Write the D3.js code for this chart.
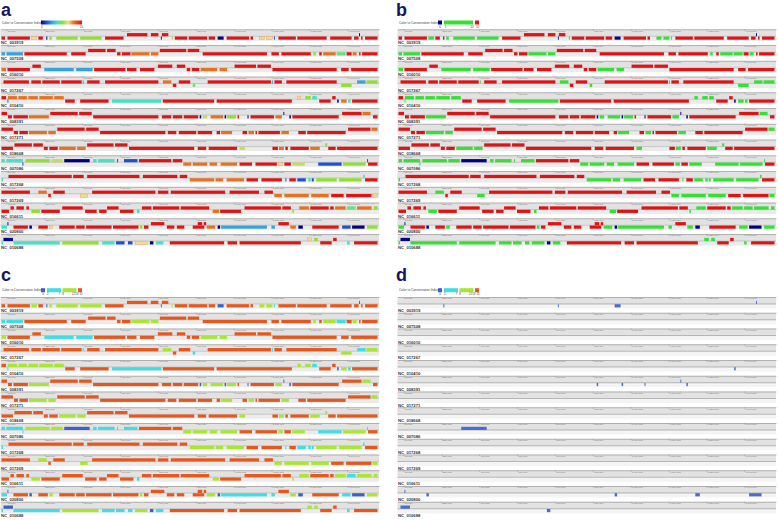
<!DOCTYPE html>
<html>
<head>
<meta charset="utf-8">
<script src="https://cdnjs.cloudflare.com/ajax/libs/d3/7.8.5/d3.min.js"></script>
<style>
  body { margin: 0; background: #fff; }
  svg { display: block; font-family: "Liberation Sans", Arial, sans-serif; }
</style>
</head>
<body>
<div id="chart"></div>
<script>
// genome names, one per track
const trackNames = ["NC_003919", "NC_007508", "NC_016010", "NC_017267", "NC_010410", "NC_008391", "NC_017271",
  "NC_018668", "NC_007086", "NC_017268", "NC_017269", "NC_016611", "NC_020800", "NC_010688"];

// ruler ticks (position units of 5 kb)
const tickValues = [6, 44, 82, 120, 158, 196, 234, 272, 310, 348];
const tickLabels = ["30,000", "220,000", "410,000", "600,000", "790,000", "980,000", "1,170,000", "1,360,000", "1,550,000", "1,740,000"];

// legend labels
const legendLabelsA = ["0", "15"];
const legendLabelsB = ["0", "1", "13", "15"];
const legendLabelsC = ["0", "2", "7", "8", "12", "13", "15"];

// blocks: [start, end, strand (+1 upper / -1 lower), conservation index]
const track01 = [[127,148,1,15],[151,159,1,15],[162,169,1,15],[360,361,1,0],
  [1,5,-1,15],[7,30,-1,15],[31,37,-1,10],[38,43,-1,15],[46,47.5,-1,0],[49,52,-1,8],[56,78,-1,8],[80,102,-1,8],[105,124,-1,15],
  [161,162,-1,0],[172,173.5,-1,8],[175,188,-1,15],[189,208,-1,15],[209,216,-1,15],[218,224.5,-1,0],[227,250,-1,15],[251,254,-1,15],
  [260,265.5,-1,10],[267,273.5,-1,10],[274.5,276,-1,2],[279,297,-1,15],[298,328,-1,15],[331,353,-1,15],[355,360,-1,15],[362,364,-1,15],[366,379,-1,15]];
const track02 = [[88,106,1,15],[107,116,1,15],[160,187,1,15],[188,200,1,15],
  [1,5,-1,4],[6,23,-1,4],[24,67,-1,15],[71,86,-1,15],[117,121,-1,15],[122,131,-1,15],[131.5,150,-1,12],[151,159,-1,12],[203,268,-1,15],
  [272,280,-1,15],[282,312,-1,15],[314,317,-1,8],[320,323,-1,15],[324,337,-1,12],[337.5,347,-1,7],[347.5,353,-1,15],[353.5,358,-1,12],[360,362,-1,15],[363,379,-1,15]];
const track03 = [[32,41,1,15],[158,173,1,15],[177,186,1,15],[235,257,1,15],[258,272,1,15],
  [1,6,-1,12],[7,30,-1,15],[44,74,-1,4],[76,93,-1,4],[94,126,-1,15],[127,137,-1,15],[140,155,-1,15],[187,191,-1,15],[192,200,-1,15],
  [201,218,-1,12],[220,228,-1,12],[273,338,-1,15],[342,350,-1,15],[352,379,-1,15]];
const track04 = [[3,29,1,15],[31,41,1,15],[42,60,1,15],[61,82,1,15],[82.5,84,1,4],[87,100,1,15],[105,159,1,15],[163,172,1,12],[179,191,1,15],
  [208,272,1,15],[272.5,274,1,4],[275,283,1,15],[287,338,1,15],[358,367,1,4],[367.5,379,1,8],
  [173,177,-1,15],[193,196,-1,7],[342,353,-1,8]];
const track05 = [[1,6,1,15],[7.5,17,1,12],[18,27,1,12],[28,38,1,12],[39,53,1,12],[54,64,1,12],[298,302,1,10],[306,312,1,8],[313,318,1,6],[333,337,1,15],
  [7,7.8,-1,2],[65,75,-1,15],[80,109,-1,15],[112,162,-1,6],[163,215,-1,15],[217,293,-1,15],[320,332,-1,15],[338,340,-1,0],[342,348,-1,12],[349,352,-1,6],[353,379,-1,15]];
const track06 = [[1,7,1,15],[50,78,1,15],[79,92,1,15],[284,285,1,0],[343,363,1,15],[363.5,372,1,12],
  [7.5,12,-1,15],[13,28,-1,15],[28.5,49,-1,12],[93,159,-1,15],[162,172,-1,15],[173,183,-1,15],[184,199,-1,15],[200,202,-1,0],[203,208,-1,9],
  [211,224,-1,12],[225,227,-1,0],[227.5,237,-1,8],[238,240,-1,15],[248,249.5,-1,0],[251,275,-1,15],[276,283,-1,12],[290,292,-1,0],[293,340,-1,15],[374,379,-1,15]];
const track07 = [[1,13,1,15],[57,85,1,15],[86,99,1,15],[349,372,1,15],[372.5,379,1,12],
  [13.5,18,-1,15],[19,28,-1,15],[28.5,47,-1,12],[48,56,-1,12],[100,166,-1,15],[168,177,-1,15],[179,197,-1,15],[198,213,-1,15],[217,221,-1,15],
  [221.5,233,-1,12],[243,248,-1,15],[249,255,-1,12],[256,258,-1,15],[259,281,-1,15],[282,290,-1,12],[299,307,-1,15],[308,347,-1,15]];
const track08 = [[14,32,1,15],[33,43,1,15],[87,114,1,15],[115,128,1,15],[326,328.5,1,8],
  [1,13,-1,15],[43.5,48,-1,15],[49,58,-1,15],[59,76,-1,12],[77,86,-1,12],[129,195,-1,15],[198,207,-1,15],[209,238,-1,15],[240,246,-1,9],
  [273,279,-1,15],[279.5,285,-1,12],[286,289,-1,15],[291,310,-1,15],[311,321,-1,12],[329,337,-1,15],[338,379,-1,15]];
const track09 = [[1,5,1,6],[6,23,1,6],[25,50,1,8],[51,63,1,9],[64,90,1,0],[93,97,1,6],[98,115,1,6],[117,118.5,1,2],[124,138,1,2],[139,172,1,15],
  [173,183,1,15],[368,369.5,1,2],
  [22,23.5,-1,2],[183.5,192,-1,12],[193,208,-1,12],[210,218,-1,12],[221,238,-1,12],[240,253,-1,15],[256,278,-1,15],[279,284,-1,10],[285,292,-1,15],
  [293,306,-1,9],[319,343,-1,2],[344,367,-1,8],[369,379,-1,15]];
const track10 = [[8,72,1,15],[73,84,1,15],[87,140,1,15],[143,178,1,15],[180,188,1,15],[364,366,1,6],
  [1,3,-1,6],[190,215,-1,12],[216,224,-1,12],[227,245,-1,12],[247,259,-1,15],[262,283,-1,15],[286,287.5,-1,2],[290,297,-1,15],[298,307,-1,2],
  [309,312,-1,6],[312.5,315,-1,2],[317,338,-1,8],[340,363,-1,8],[366,379,-1,15]];
const track11 = [[1,30,1,15],[38,47,1,12],[53,65,1,15],[92,156,1,15],[158,169,1,15],[171,226,1,15],[230,260,1,15],[265,274,1,15],
  [48,51,-1,15],[80,88,-1,10],[275,283,-1,12],[285,310,-1,12],[312,330,-1,12],[332,345,-1,15],[347,373,-1,15],[373.5,379,-1,10]];
const track12 = [[10,14,1,15],[16,24,1,15],[26,29,1,15],[62,83,1,15],[107,119,1,15],[142,152,1,15],[153,180,1,15],[181,210,1,15],[245,282,1,15],
  [283,292,1,15],[300,310,1,12],[311,330,1,15],[331,335,1,15],[336,347,1,12],[348,357,1,7],[358,373,1,12],[375,379,1,8],
  [1,9,-1,15],[31,40,-1,8],[41,60,-1,15],[85,97,-1,15],[99,107,-1,15],[120,134,-1,15],[137,140,-1,6],[213,220,-1,12],[220.5,242,-1,15],[293,295,-1,8]];
const track13 = [[7,8,1,0],[151,165,1,15],[198,203,1,15],[204,207,1,15],[279,290,1,15],
  [1,7,-1,6],[13,28,-1,15],[29,32,-1,0],[38,48,-1,15],[49,53,-1,10],[59,75,-1,15],[76,85,-1,15],[86,112,-1,15],[113,139,-1,15],[140,143,-1,8],
  [144,149,-1,15],[167,175,-1,15],[177,185,-1,15],[193,205,-1,15],[207,216,-1,12],[218,221,-1,0],[221.5,268,-1,4],[272,276,-1,4],[291,297,-1,12],
  [299,304,-1,0],[313,340,-1,15],[343,352,-1,2],[353,366,-1,0],[368,379,-1,8]];
const track14 = [[3,13,1,0],[308,313,1,10],[315,319,1,8],[334,338,1,15],
  [1,3,-1,6],[13,60,-1,6],[62,99,-1,8],[102,115,-1,6],[116,125,-1,2],[128,133,-1,2],[135,148,-1,10],[150,154,-1,0],[156,164,-1,6],
  [170,225,-1,15],[228,238,-1,15],[240,302,-1,15],[321,333,-1,15],[348,351,-1,6],[355,379,-1,15]];

const tracks = [track01, track02, track03, track04, track05, track06, track07, track08, track09, track10, track11, track12, track13, track14];

// colour schemes
const colorA = d3.scaleLinear()
  .domain([0, 2, 4, 6, 8, 10, 12, 15])
  .range(["#00007f", "#1f4fd6", "#37a3de", "#3fe3c6", "#8fe12e", "#f3d89c", "#e8701e", "#e01414"]);
const colorB = d3.scaleThreshold().domain([0.5, 13.5]).range(["#00008f", "#33e133", "#e01212"]);
const colorC = d3.scaleThreshold().domain([1.5, 7.5, 12.5]).range(["#3c5fc9", "#3fdde6", "#a8e632", "#e8561c"]);

const W = 778, H = 520;
const svg = d3.select("#chart").append("svg").attr("width", W).attr("height", H);

const grad = svg.append("defs").append("linearGradient").attr("id", "gradA");
colorA.domain().forEach(v => {
  grad.append("stop").attr("offset", (v / 15 * 100) + "%").attr("stop-color", colorA(v));
});

const panels = [
  { letter: "a", x: 0, y: 0, titleY: 16.3, scheme: "a" },
  { letter: "b", x: 397, y: 0, titleY: 16.3, scheme: "b" },
  { letter: "c", x: 0, y: 267.7, titleY: 280.5, scheme: "c" },
  { letter: "d", x: 397, y: 267.7, titleY: 281, scheme: "d" }
];

function drawLegend(g, scheme) {
  const lg = g.append("g").attr("transform", "translate(0,20.5)");
  lg.append("text").attr("x", 2).attr("y", 3).attr("font-size", 3.2).attr("fill", "#444")
    .text("Color to Conservation Index:");
  let boxes, labels, lx;
  if (scheme === "a") {
    lg.append("rect").attr("x", 41).attr("y", 0).attr("width", 41).attr("height", 4).attr("fill", "url(#gradA)");
    labels = legendLabelsA; lx = [41.7, 81.5];
  } else if (scheme === "b") {
    boxes = [[41, 45, 0], [47, 76, 8], [78, 82, 15]];
    boxes.forEach(b => lg.append("rect").attr("x", b[0]).attr("y", 0).attr("width", b[1] - b[0]).attr("height", 4).attr("fill", colorB(b[2])));
    labels = legendLabelsB; lx = [43, 48.5, 75, 80.5];
  } else {
    boxes = [[41, 45, 0], [47, 61, 4], [62.5, 76.5, 10], [78, 82, 15]];
    boxes.forEach(b => lg.append("rect").attr("x", b[0]).attr("y", 0).attr("width", b[1] - b[0]).attr("height", 4).attr("fill", colorC(b[2])));
    labels = legendLabelsC; lx = [43, 47.7, 59.5, 63, 73.5, 76.8, 81];
  }
  labels.forEach((t, i) => {
    lg.append("text").attr("x", lx[i]).attr("y", 7).attr("font-size", 2.8).attr("fill", "#333")
      .attr("text-anchor", "middle").text(t);
  });
}

panels.forEach(p => {
  const g = svg.append("g").attr("transform", `translate(${p.x},${p.y})`);
  g.append("text").attr("x", p.letter === "a" || p.letter === "c" ? 1 : -1).attr("y", p.titleY - p.y)
    .attr("font-size", 18).attr("font-weight", "bold").attr("fill", "#16165c").text(p.letter);

  drawLegend(g, p.scheme);

  const xs = d3.scaleLinear().domain([0, 380]).range([0.5, 379]);
  const color = p.scheme === "a" ? colorA : p.scheme === "b" ? colorB : colorC;

  tracks.forEach((blocks, i) => {
    const t = 29.3 + i * 15.75;
    const tg = g.append("g").attr("transform", `translate(0,${t})`);

    tg.append("rect").attr("x", xs(0)).attr("y", 0).attr("width", xs(380) - xs(0)).attr("height", 7)
      .attr("fill", "#e2e2e2");
    tg.append("rect").attr("x", xs(0)).attr("y", 7).attr("width", xs(380) - xs(0)).attr("height", 4.5)
      .attr("fill", p.scheme === "d" ? "#f4f4f4" : "#ebebeb");

    const axis = d3.axisBottom(xs).tickValues(tickValues).tickSize(1.6).tickSizeOuter(0)
      .tickFormat((d, j) => tickLabels[j]);
    const ag = tg.append("g").call(axis);
    ag.select(".domain").attr("stroke", "#8d8d8d").attr("stroke-width", 0.6);
    ag.selectAll(".tick line").attr("stroke", "#888").attr("stroke-width", 0.4);
    ag.selectAll(".tick text").attr("font-size", 2.5).attr("fill", "#777")
      .attr("text-anchor", "start").attr("x", 0.8).attr("y", 0.6).attr("dy", "0.71em");

    tg.append("line").attr("x1", xs(0)).attr("x2", xs(380)).attr("y1", 7).attr("y2", 7)
      .attr("stroke", p.scheme === "d" ? "#7a7a7a" : "#a0a0a0").attr("stroke-width", 0.5);

    const shown = p.scheme === "d" ? blocks.filter(b => b[3] <= 1) : blocks;
    tg.selectAll("rect.blk").data(shown).join("rect")
      .attr("class", "blk")
      .attr("x", b => xs(b[0]))
      .attr("width", b => Math.max(xs(b[1]) - xs(b[0]) - 0.5, 0.9))
      .attr("y", b => b[2] > 0 ? 3.8 : 7.2)
      .attr("height", 3.2)
      .attr("fill", b => p.scheme === "d" ? "#4a6bd0" : color(b[3]))
      .attr("stroke", b => p.scheme === "a" && b[3] === 10 ? "#e0a060" : "none")
      .attr("stroke-width", 0.4);

    tg.append("text").attr("x", 1).attr("y", 15.2).attr("font-size", 4.2).attr("font-weight", "bold")
      .attr("fill", "#333").text(trackNames[i]);
  });
});
</script>
</body>
</html>
